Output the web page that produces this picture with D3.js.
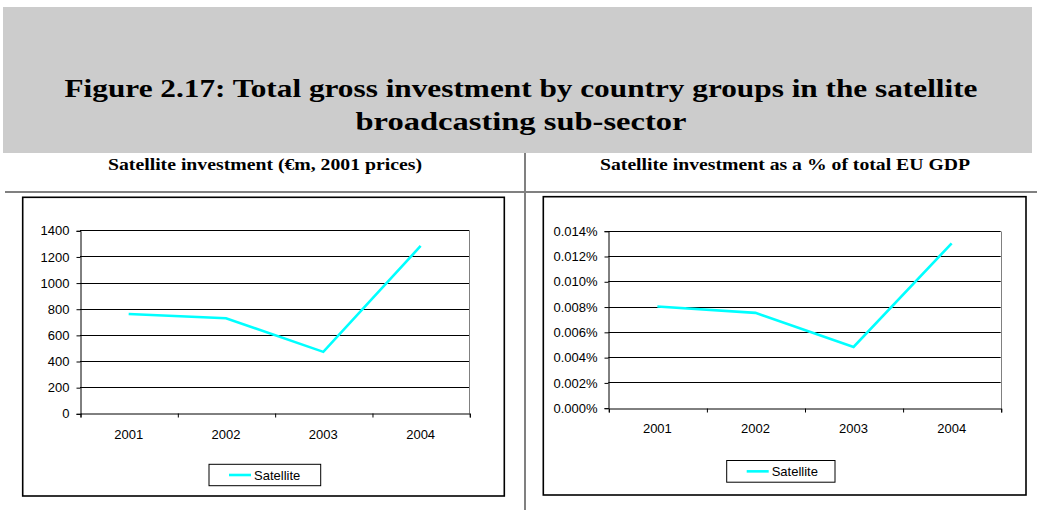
<!DOCTYPE html>
<html>
<head>
<meta charset="utf-8">
<script src="https://cdn.jsdelivr.net/npm/d3@7/dist/d3.min.js"></script>
<style>
  html, body { margin: 0; padding: 0; background: #fff; }
  svg { display: block; }
</style>
</head>
<body>
<svg id="fig" width="1037" height="510"></svg>
<script>
// Years on the category axis
const years = ["2001", "2002", "2003", "2004"];
// Satellite investment, €m at 2001 prices
const investment = [760, 727, 470, 1280];
// Satellite investment as a share of total EU GDP (in percent)
const gdpShare = [0.0080, 0.0075, 0.0048, 0.0130];
// Value axis ticks
const investTicks = [0, 200, 400, 600, 800, 1000, 1200, 1400];
const shareTicks = [0, 0.002, 0.004, 0.006, 0.008, 0.010, 0.012, 0.014];
// Texts
const figureTitle = [
  "Figure 2.17: Total gross investment by country groups in the satellite",
  "broadcasting sub-sector"
];
const panelTitles = [
  "Satellite investment (€m, 2001 prices)",
  "Satellite investment as a % of total EU GDP"
];
const seriesName = "Satellite";

const svg = d3.select("#fig");
const serif = "'Liberation Serif', 'Times New Roman', serif";
const sans = "'Liberation Sans', Arial, sans-serif";

// Grey title banner
svg.append("rect")
  .attr("x", 3).attr("y", 7).attr("width", 1029).attr("height", 146)
  .attr("fill", "#cccccc");

const titleLines = [
  { text: figureTitle[0], y: 97, w: 913 },
  { text: figureTitle[1], y: 130, w: 331 }
];
titleLines.forEach(l => {
  svg.append("text")
    .attr("x", 521).attr("y", l.y)
    .attr("text-anchor", "middle")
    .attr("font-family", serif).attr("font-weight", "bold")
    .attr("font-size", 26)
    .attr("textLength", l.w).attr("lengthAdjust", "spacingAndGlyphs")
    .attr("fill", "#000")
    .text(l.text);
});

// Table rules: horizontal under the panel headings, vertical between panels
svg.append("line")
  .attr("x1", 5).attr("x2", 1037).attr("y1", 192).attr("y2", 192)
  .attr("stroke", "#808080").attr("stroke-width", 2);
svg.append("line")
  .attr("x1", 525).attr("x2", 525).attr("y1", 153).attr("y2", 510)
  .attr("stroke", "#808080").attr("stroke-width", 2);

function drawPanel(p) {
  // Panel heading
  svg.append("text")
    .attr("x", p.headX).attr("y", 170)
    .attr("text-anchor", "middle")
    .attr("font-family", serif).attr("font-weight", "bold")
    .attr("font-size", 16)
    .attr("textLength", p.headW).attr("lengthAdjust", "spacingAndGlyphs")
    .attr("fill", "#000")
    .text(p.heading);

  // Chart frame
  svg.append("rect")
    .attr("x", p.box[0]).attr("y", p.box[1])
    .attr("width", p.box[2] - p.box[0]).attr("height", p.box[3] - p.box[1])
    .attr("fill", "#fff").attr("stroke", "#000").attr("stroke-width", 1.6);

  const [L, T, R, B] = p.plot;
  const x = d3.scaleBand().domain(years).range([L, R]).padding(0);
  const xEdge = d3.scaleLinear().domain([0, years.length]).range([L, R]);
  const y = d3.scaleLinear().domain([0, d3.max(p.ticks)]).range([B, T]);

  const g = svg.append("g");

  // Horizontal gridlines
  g.selectAll("line.grid").data(p.ticks.slice(1)).join("line")
    .attr("class", "grid")
    .attr("x1", L).attr("x2", R)
    .attr("y1", d => Math.round(y(d)) + 0.5).attr("y2", d => Math.round(y(d)) + 0.5)
    .attr("stroke", "#000").attr("stroke-width", 1);

  // Plot area border (right side in grey)
  g.append("line")
    .attr("x1", Math.round(R) + 0.5).attr("x2", Math.round(R) + 0.5)
    .attr("y1", Math.round(T) + 0.5).attr("y2", Math.round(B) + 0.5)
    .attr("stroke", "#808080").attr("stroke-width", 1);

  // Value axis
  const yAxis = d3.axisLeft(y).tickValues(p.ticks).tickSize(4).tickPadding(7)
    .tickFormat(p.fmt);
  const ya = g.append("g").attr("transform", `translate(${Math.round(L) + 0.5},0.5)`).call(yAxis);
  ya.select(".domain").attr("stroke", "#000");
  ya.selectAll(".tick line").attr("stroke", "#000");
  ya.selectAll("text").attr("font-family", sans).attr("font-size", 13).attr("fill", "#000");

  // Category axis: tick marks on band edges, labels in band centres
  const xa = g.append("g").attr("transform", `translate(0.5,${Math.round(B) + 0.5})`)
    .call(d3.axisBottom(xEdge).tickValues(d3.range(years.length + 1)).tickSize(4).tickFormat(""));
  xa.select(".domain").attr("stroke", "#000");
  xa.selectAll(".tick line").attr("stroke", "#000");

  const xl = g.append("g").attr("transform", `translate(0,${B})`)
    .call(d3.axisBottom(x).tickSize(0).tickPadding(p.labelPad));
  xl.select(".domain").remove();
  xl.selectAll("text").attr("font-family", sans).attr("font-size", 13).attr("fill", "#000");

  // Series line
  const line = d3.line()
    .x((d, i) => x(years[i]) + x.bandwidth() / 2)
    .y(d => y(d));
  g.append("path")
    .datum(p.values)
    .attr("d", line)
    .attr("fill", "none")
    .attr("stroke", "#00ffff").attr("stroke-width", 2.6)
    .attr("stroke-linejoin", "miter");

  // Legend
  const [lx0, ly0, lx1, ly1] = p.legend;
  svg.append("rect")
    .attr("x", lx0).attr("y", ly0).attr("width", lx1 - lx0).attr("height", ly1 - ly0)
    .attr("fill", "#fff").attr("stroke", "#000").attr("stroke-width", 1);
  const cy = (ly0 + ly1) / 2;
  svg.append("line")
    .attr("x1", lx0 + 20).attr("x2", lx0 + 42).attr("y1", cy).attr("y2", cy)
    .attr("stroke", "#00ffff").attr("stroke-width", 2.6);
  svg.append("text")
    .attr("x", lx0 + 45).attr("y", cy + 4.8)
    .attr("font-family", sans).attr("font-size", 13).attr("fill", "#000")
    .text(seriesName);
}

drawPanel({
  heading: panelTitles[0], headX: 265, headW: 314,
  box: [22.7, 197.3, 504.3, 496],
  plot: [80, 230.3, 469.3, 413.3],
  ticks: investTicks, values: investment,
  fmt: d3.format("d"),
  labelPad: 16,
  legend: [209, 464.3, 320.7, 485.7]
});

drawPanel({
  heading: panelTitles[1], headX: 785, headW: 370,
  box: [543.3, 196.7, 1026, 495],
  plot: [608.3, 230.7, 1000.7, 407.7],
  ticks: shareTicks, values: gdpShare,
  fmt: d => d3.format(".3f")(d) + "%",
  labelPad: 16,
  legend: [726.7, 460.5, 835, 482.2]
});
</script>
</body>
</html>
